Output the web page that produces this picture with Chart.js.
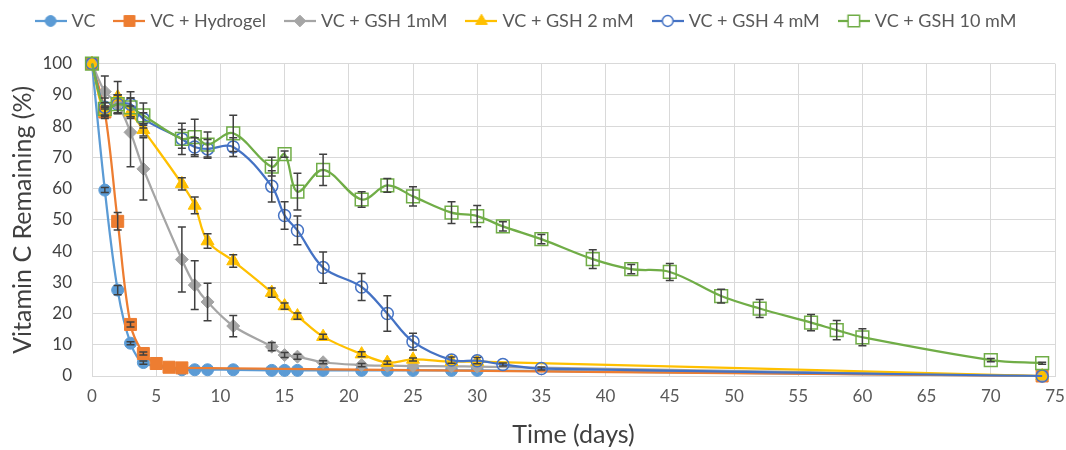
<!DOCTYPE html>
<html>
<head>
<meta charset="utf-8">
<script src="https://cdn.jsdelivr.net/npm/chart.js@4"></script>
<style>
  html, body { margin: 0; padding: 0; background: #ffffff; }
  #wrap { width: 1066px; height: 450px; }
</style>
</head>
<body>
<div id="wrap"><canvas id="chart" width="1066" height="450"></canvas></div>
<script>
// ==================== 数据 ====================

const seriesNames = ['VC', 'VC + Hydrogel', 'VC + GSH 1mM', 'VC + GSH 2 mM', 'VC + GSH 4 mM', 'VC + GSH 10 mM'];

const vcDays = [0, 1, 2, 3, 4, 7, 8, 9, 11, 14, 15, 16, 18, 21, 23, 25, 28, 30, 74];
const vcValues = [100, 59.5, 27.5, 10.5, 4.3, 2, 2, 2, 2, 1.8, 1.8, 1.8, 1.8, 1.8, 1.8, 1.8, 1.8, 1.8, 0];
const vcErrors = [0, 0.8, 1.5, 0.5, 0.5, 0, 0, 0, 0, 0, 0, 0, 0, 0, 0, 0, 0, 0, 0];

const hydrogelDays = [0, 1, 2, 3, 4, 5, 6, 7, 74];
const hydrogelValues = [100, 84.5, 49.5, 16.5, 7.2, 4, 2.8, 2.6, 0];
const hydrogelErrors = [0, 1, 2.8, 0.8, 0.5, 0, 0, 0, 0];

const gsh1Days = [0, 1, 2, 3, 4, 7, 8, 9, 11, 14, 15, 16, 18, 21, 23, 25, 28, 30, 74];
const gsh1Values = [100, 91, 87, 78, 66.3, 37.3, 29.1, 23.7, 16, 9.4, 6.7, 6.2, 4.4, 3.5, 3.3, 3.2, 3.1, 3, 0];
const gsh1Errors = [0, 5, 3, 11, 10, 10.4, 7.8, 6, 3.4, 1.3, 0.8, 0.8, 0.5, 0.5, 0, 0, 0, 0, 0];

const gsh2Days = [0, 1, 2, 3, 4, 7, 8, 9, 11, 14, 15, 16, 18, 21, 23, 25, 28, 30, 74];
const gsh2Values = [100, 84.4, 89.3, 84.4, 78.8, 61.5, 54.6, 43.2, 36.8, 26.7, 22.4, 19.2, 12.6, 7, 4.3, 5.3, 4.6, 4.6, 0];
const gsh2Errors = [0, 2, 5, 2, 2, 2, 2.7, 2.3, 2, 1.5, 1, 1, 0.8, 0.8, 0.5, 0.5, 0, 0, 0];

const gsh4Days = [0, 1, 2, 3, 4, 7, 8, 9, 11, 14, 15, 16, 18, 21, 23, 25, 28, 30, 32, 35, 74];
const gsh4Values = [100, 86, 87, 87, 82.3, 75.9, 73.3, 72.7, 73.3, 60.7, 51.4, 46.6, 34.7, 28.5, 20, 11, 5.1, 4.9, 3.7, 2.4, 0];
const gsh4Errors = [0, 3, 3, 4, 2, 3, 3, 3, 3, 5, 4.4, 4.6, 5, 4.3, 5.7, 2.7, 1, 1, 0.5, 0.5, 0];

const gsh10Days = [0, 1, 2, 3, 4, 7, 8, 9, 11, 14, 15, 16, 18, 21, 23, 25, 28, 30, 32, 35, 39, 42, 45, 49, 52, 56, 58, 60, 70, 74];
const gsh10Values = [100, 85.5, 87, 86, 83.4, 75.9, 76.5, 74.1, 77.7, 67, 71, 59, 66, 56.5, 61, 57.5, 52.3, 51.2, 47.9, 43.8, 37.4, 34.2, 33.3, 25.6, 21.6, 17.1, 14.7, 12.4, 5.1, 4.1];
const gsh10Errors = [0, 2, 3, 3, 4, 5, 5.7, 4, 5.8, 3, 1, 5.9, 5, 2.5, 2.2, 3.1, 3.5, 3.4, 1.5, 1.5, 3, 1.5, 2.7, 2.2, 2.9, 2.6, 3.1, 2.7, 0.5, 0.3];

const seriesDays = [vcDays, hydrogelDays, gsh1Days, gsh2Days, gsh4Days, gsh10Days];
const seriesValues = [vcValues, hydrogelValues, gsh1Values, gsh2Values, gsh4Values, gsh10Values];
const seriesErrors = [vcErrors, hydrogelErrors, gsh1Errors, gsh2Errors, gsh4Errors, gsh10Errors];

// 坐标轴刻度
const xTicks = [0, 5, 10, 15, 20, 25, 30, 35, 40, 45, 50, 55, 60, 65, 70, 75];
const yTicks = [0, 10, 20, 30, 40, 50, 60, 70, 80, 90, 100];

// ==================== 样式 ====================

const FONT = 'Lato, "Open Sans", sans-serif';

const seriesStyles = [
  { color: '#5B9BD5', point: 'circle', radius: 6, fill: true },
  { color: '#ED7D31', point: 'rect', radius: 8.5, fill: true },
  { color: '#A5A5A5', point: 'rectRot', radius: 6.5, fill: true },
  { color: '#FFC000', point: 'triangle', radius: 7.5, fill: true },
  { color: '#4472C4', point: 'circle', radius: 6, fill: false },
  { color: '#70AD47', point: 'rect', radius: 9, fill: false }
];

/** 图例用的小图：一段线 + 中间一个标记（比图例框宽，文字贴得更近） */
function legendIcon(style) {
  const c = document.createElement('canvas');
  c.width = 32;
  c.height = 18;
  const g = c.getContext('2d');
  g.strokeStyle = style.color;
  g.lineWidth = 2.25;
  g.beginPath();
  g.moveTo(0, 9);
  g.lineTo(32, 9);
  g.stroke();
  g.fillStyle = style.fill ? style.color : '#ffffff';
  g.lineWidth = style.fill ? 1 : 1.5;
  Chart.helpers.drawPoint(g, {
    pointStyle: style.point,
    radius: style.radius * 0.9,
    rotation: 0,
    borderWidth: g.lineWidth
  }, 16, 9);
  return c;
}

const datasets = seriesNames.map((name, i) => {
  const s = seriesStyles[i];
  return {
    label: name,
    data: seriesDays[i].map((d, j) => ({ x: d, y: seriesValues[i][j] })),
    borderColor: s.color,
    borderWidth: 2.25,
    tension: 0.35,
    pointStyle: s.point,
    pointRadius: s.radius,
    pointHoverRadius: s.radius,
    pointBackgroundColor: s.fill ? s.color : 'rgba(255,255,255,0)',
    pointBorderColor: s.color,
    pointBorderWidth: s.fill ? 1 : 1.5,
    order: seriesNames.length - i,
    clip: false
  };
});

// ==================== 误差线插件 ====================

const errorBars = {
  id: 'errorBars',
  afterDatasetsDraw(chart) {
    const { ctx, scales: { x, y } } = chart;
    ctx.save();
    ctx.strokeStyle = '#404040';
    ctx.lineWidth = 1.5;
    seriesErrors.forEach((errs, i) => {
      errs.forEach((e, j) => {
        if (!e) return;
        const px = x.getPixelForValue(seriesDays[i][j]);
        const top = y.getPixelForValue(seriesValues[i][j] + e);
        const bot = y.getPixelForValue(seriesValues[i][j] - e);
        ctx.beginPath();
        ctx.moveTo(px, top);
        ctx.lineTo(px, bot);
        ctx.moveTo(px - 4, top);
        ctx.lineTo(px + 4, top);
        ctx.moveTo(px - 4, bot);
        ctx.lineTo(px + 4, bot);
        ctx.stroke();
      });
    });
    ctx.restore();
  }
};

// ==================== 图表 ====================

new Chart(document.getElementById('chart'), {
  type: 'line',
  data: { datasets },
  plugins: [errorBars],
  options: {
    responsive: false,
    animation: false,
    layout: { padding: { top: -10, right: 11, left: 0, bottom: 0 } },
    plugins: {
      tooltip: { enabled: false },
      // 空标题只当作图例和绘图区之间的间隔
      title: {
        display: true,
        text: '',
        position: 'top',
        weight: 500,
        padding: 7,
        font: { family: FONT, size: 8 }
      },
      legend: {
        position: 'top',
        labels: {
          usePointStyle: true,
          pointStyleWidth: 24,
          boxHeight: 16,
          padding: 22,
          color: '#595959',
          font: { family: FONT, size: 18 },
          generateLabels: () => seriesNames.map((name, i) => ({
            text: name,
            pointStyle: legendIcon(seriesStyles[i]),
            fontColor: '#595959',
            lineWidth: 0,
            datasetIndex: i
          }))
        }
      }
    },
    scales: {
      x: {
        type: 'linear',
        min: 0,
        max: 75,
        afterBuildTicks: (scale) => { scale.ticks = xTicks.map(v => ({ value: v })); },
        afterFit: (scale) => {
          scale.height = 74;
          // 末尾刻度文字允许伸出绘图区，不额外留白
          scale.paddingRight = 0;
          scale.paddingLeft = 0;
        },
        grid: { color: '#d9d9d9', lineWidth: 1, drawTicks: false },
        border: { color: '#d9d9d9' },
        ticks: { color: '#595959', padding: 10, font: { family: FONT, size: 17 } },
        title: {
          display: true,
          text: 'Time (days)',
          color: '#404040',
          padding: { top: 8, bottom: 0 },
          font: { family: FONT, size: 25 }
        }
      },
      y: {
        min: 0,
        max: 100,
        afterBuildTicks: (scale) => { scale.ticks = yTicks.map(v => ({ value: v })); },
        afterFit: (scale) => { scale.width = 92; },
        grid: { color: '#d9d9d9', lineWidth: 1, drawTicks: false },
        border: { color: '#d9d9d9' },
        ticks: { color: '#404040', padding: 20, font: { family: FONT, size: 17 } },
        title: {
          display: true,
          text: 'Vitamin C Remaining (%)',
          color: '#404040',
          padding: { top: 8, bottom: 0 },
          font: { family: FONT, size: 25 }
        }
      }
    }
  }
});
</script>
</body>
</html>
